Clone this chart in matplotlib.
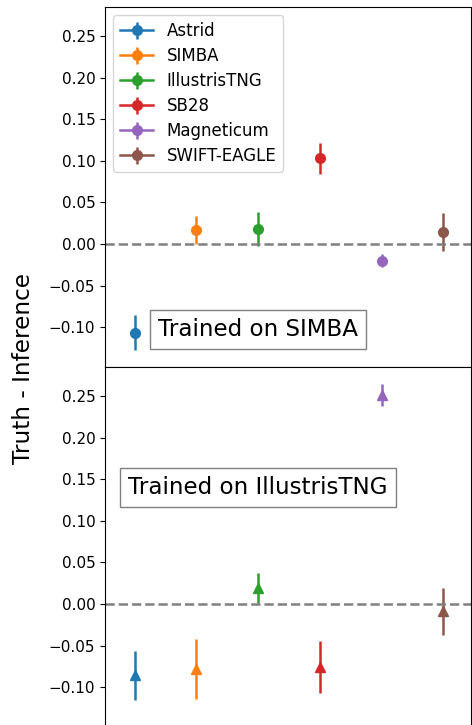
import matplotlib
matplotlib.use("Agg")
import matplotlib.pyplot as plt

names = ['Astrid', 'SIMBA', 'IllustrisTNG', 'SB28', 'Magneticum', 'SWIFT-EAGLE']
top_vals = [-0.107, 0.017, 0.018, 0.103, -0.020, 0.014]
top_errs = [0.021, 0.017, 0.020, 0.019, 0.008, 0.023]
bot_vals = [-0.086, -0.078, 0.019, -0.076, 0.251, -0.009]
bot_errs = [0.030, 0.036, 0.018, 0.031, 0.013, 0.028]
yticks = [-0.10, -0.05, 0.00, 0.05, 0.10, 0.15, 0.20, 0.25]
top_label = 'Trained on SIMBA'
bot_label = 'Trained on IllustrisTNG'
ylabel = 'Truth - Inference'

colors = plt.rcParams['axes.prop_cycle'].by_key()['color']

fig = plt.figure(figsize=(4.72, 7.25), dpi=100)
left, width = 105 / 472, 366 / 472
top_ax = fig.add_axes([left, 1 - 367 / 725, width, 360 / 725])
bot_ax = fig.add_axes([left, 1 - 727 / 725, width, 360 / 725])

for ax, vals, errs, mk in [(top_ax, top_vals, top_errs, 'o'), (bot_ax, bot_vals, bot_errs, '^')]:
    for i, (n, v, e) in enumerate(zip(names, vals, errs)):
        ax.errorbar(i, v, yerr=e, fmt='-' + mk, color=colors[i], ms=7, lw=1.8, label=n)
    ax.axhline(0, color='gray', ls='--', lw=1.8)
    ax.set_xlim(-0.48, 5.45)
    ax.set_ylim(-0.148, 0.285)
    ax.set_yticks(yticks)
    ax.set_xticks([])
    ax.tick_params(labelsize=11)

top_ax.legend(loc='upper left', fontsize=12, labelspacing=0.42)
box = dict(boxstyle='square,pad=0.35', facecolor='white', edgecolor='gray')
top_ax.text(2, -0.103, top_label, ha='center', va='center', fontsize=16.6, bbox=box)
bot_ax.text(2, 0.140, bot_label, ha='center', va='center', fontsize=16.6, bbox=box)
fig.text(24 / 472, 1 - 368 / 725, ylabel, rotation=90, ha='center', va='center', fontsize=16.7)

fig.savefig('out.png', dpi=100)
